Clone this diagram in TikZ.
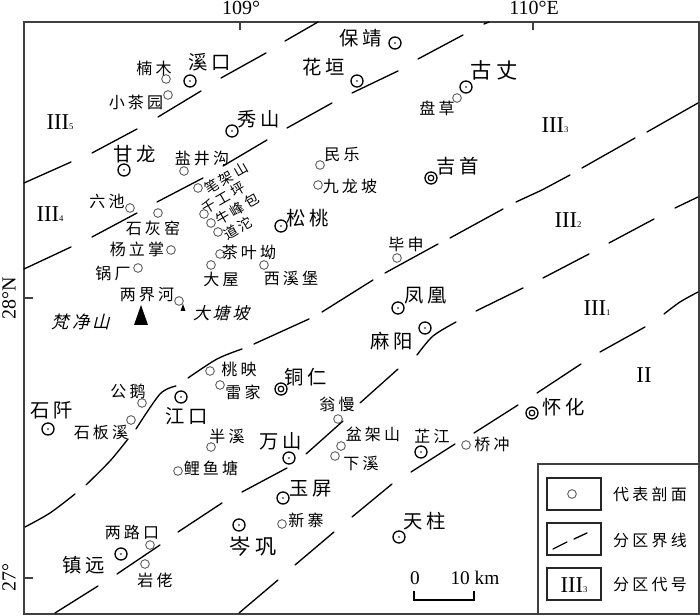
\documentclass[tikz,border=0pt]{standalone}
\usepackage{fontspec}
\setmainfont{Liberation Serif}
\newfontfamily\cjk[LetterSpace=20]{Noto Sans CJK SC}
\newfontfamily\cjksl[LetterSpace=18,FakeSlant=0.25]{Noto Sans CJK SC}
\newcommand{\zone}[2]{{\fontsize{17}{17}\selectfont #1}\raisebox{-0.2pt}{\fontsize{6.5}{7}\selectfont #2}}
\tikzset{
  x=0.75pt,y=-0.75pt,
  frameline/.style={draw=black!75,line width=1.5pt},
  fault/.style={line width=1pt,line cap=round},
  site/.style={circle,draw=black!70,line width=0.6pt,minimum size=6.5pt,inner sep=0pt},
  town/.style={circle,draw=black,line width=1pt,minimum size=9pt,inner sep=0pt},
  city/.style={circle,draw=black,line width=1pt,minimum size=9pt,inner sep=0pt},
  xl/.style={inner sep=0pt,font=\cjk\fontsize{16}{16}\selectfont},
  lg/.style={inner sep=0pt,font=\cjk\fontsize{14.5}{15}\selectfont},
  md/.style={inner sep=0pt,font=\cjk\fontsize{12}{12}\selectfont},
  tn/.style={inner sep=0pt,font=\cjk\fontsize{10.5}{11}\selectfont,rotate=30},
  it/.style={inner sep=0pt,font=\cjksl\fontsize{12.5}{13}\selectfont},
  coord/.style={inner sep=0pt,font=\fontsize{15}{15}\selectfont},
  zonelabel/.style={inner sep=0pt},
  legbox/.style={draw=black!85,line width=1pt},
}
\begin{document}
\begin{tikzpicture}
\useasboundingbox (0,0) rectangle (700,616);
\fill[white] (0,0) rectangle (700,616);
% frame and ticks
\draw[frameline] (24,22) rectangle (699,614);
\draw[line width=1pt,black!75] (240,22) -- (240,30) (533,22) -- (533,30) (24,298) -- (33,298) (24,578) -- (33,578);
\node[coord] (lon1) at (241,8) {109°};
\node[coord] (lon2) at (534,8) {110°E};
\node[coord,rotate=90] (lat1) at (9,298) {28°N};
\node[coord,rotate=90] (lat2) at (9,578) {27°};
% line A
\draw[fault] (24,183)--(71,162) (92,153)--(137,129) (158,117)--(201,91) (221,78)--(266,53) (285,41)--(318,22);
% line B
\draw[fault] (24,269)--(71,247) (92,237)--(137,213) (157,202)--(203,178) (223,166)--(267,140) (287,128)--(332,103) (352,93)--(398,71) (418,59)--(463,35) (484,24)--(489,22);
% line C
\draw[fault] (698,103)--(647,132) (635,138)--(582,168) (570,175)--(542,190)--(516,202) (503,209)--(450,238) (438,244)--(385,273) (373,280)--(322,312) (309,319)--(254,344);
\draw[fault] plot[smooth] coordinates {(242,349) (217,359) (188,378)};
\draw[fault] plot[smooth] coordinates {(176,386) (160,394) (136,429)};
\draw[fault] plot[smooth] coordinates {(128,439) (110,461) (86,485)};
\draw[fault] plot[smooth] coordinates {(75,494) (50,513) (25,527)};
% line D
\draw[fault] (698,197)--(675,208) (654,219)--(609,243) (589,254)--(543,278) (523,288)--(476,311);
\draw[fault] plot[smooth] coordinates {(456,322) (433,336) (417,355)};
\draw[fault] (398,369)--(360,403) (343,421)--(306,454) (287,468)--(242,492) (222,503)--(178,532) (160,545)--(117,574) (98,586)--(55,613);
% line E
\draw[fault] plot[smooth] coordinates {(698,292) (680,302) (664,314)};
\draw[fault] (645,327)--(600,352) (581,364)--(537,393) (518,405)--(474,433) (455,444)--(411,472) (392,484)--(352,517) (334,532)--(295,565) (278,580)--(239,613);
% small sites
\foreach \n/\x/\y in {a/166/79,b/168/95,c/184/171,d/198/188,e/204/214,f/211/223,g/218/232,h/130/208,i/158/213,j/171/250,k/138/268,l/220/254,m/211/265,n/264/265,o/179/301,p/320/165,q/318/185,r/457/98,s/397/258,t/210/371,u/220/385,v/142/403,w/131/420,x/211/447,y/178/471,z/338/419,aa/341/446,ab/335/456,ac/282/524,ad/150/545,ae/145/564,af/466/445}
  \node[site] (site\n) at (\x,\y) {};
% towns
\foreach \n/\x/\y in {a/190/81,b/124/170,c/232/131,d/281/226,e/395/43,f/357/81,g/466/87,h/398/308,i/425/328,j/181/397,k/48/429,l/289/458,m/283/498,n/239/525,o/121/554,p/421/452,q/399/537}{
  \node[town] (town\n) at (\x,\y) {};
  \fill (town\n.center) circle (0.7pt);
}
% cities
\foreach \n/\x/\y in {js/431/178,hh/532/413,tr/281/389}{
  \node[city] (city\n) at (\x,\y) {};
  \draw[line width=0.9pt] (city\n.center) circle (2.1pt);
}
% labels
\node[lg] at (361,38) {保靖};
\node[lg] at (324,67) {花垣};
\node[lg] at (210,62) {溪口};
\node[md] at (154,68) {楠木};
\node[md] at (136,102) {小茶园};
\node[lg] at (259,119) {秀山};
\node[lg] at (135,154) {甘龙};
\node[md] at (202,159) {盐井沟};
\node[md] at (342,155) {民乐};
\node[md] at (350,186) {九龙坡};
\node[xl] at (494,70) {古丈};
\node[md] at (437,108) {盘草};
\node[lg] at (458,166) {吉首};
\node[lg] at (308,218) {松桃};
\node[md] at (406,244) {毕申};
\node[lg] at (426,296) {凤凰};
\node[lg] at (392,341) {麻阳};
\node[md] at (107,201) {六池};
\node[md] at (153,228) {石灰窑};
\node[md] at (137,249) {杨立掌};
\node[md] at (113,273) {锅厂};
\node[md] at (221,279) {大屋};
\node[md] at (249,252) {茶叶坳};
\node[md] at (291,278) {西溪堡};
\node[md] at (147,295) {两界河};
\node[tn] at (226,178) {笔架山};
\node[tn] at (223,198) {千工坪};
\node[tn] at (237,209) {牛峰包};
\node[tn] at (238,228) {道沱};
\node[it] at (221,313) {大塘坡};
\node[it,font=\cjksl\fontsize{13}{13}\selectfont] at (81,322) {梵净山};
\node[md] at (239,369) {桃映};
\node[md] at (243,392) {雷家};
\node[lg] at (306,377) {铜仁};
\node[md] at (128,391) {公鹅};
\node[md] at (101,432) {石板溪};
\node[lg] at (52,410) {石阡};
\node[lg] at (187,416) {江口};
\node[md] at (227,436) {半溪};
\node[lg] at (281,441) {万山};
\node[md] at (211,468) {鲤鱼塘};
\node[md] at (337,404) {翁慢};
\node[md] at (373,434) {盆架山};
\node[md] at (361,463) {下溪};
\node[md] at (432,436) {芷江};
\node[md] at (492,444) {桥冲};
\node[lg] at (564,407) {怀化};
\node[lg] at (311,489) {玉屏};
\node[md] at (306,520) {新寨};
\node[xl] at (253,546) {岑巩};
\node[md] at (132,532) {两路口};
\node[lg] at (84,565) {镇远};
\node[md] at (155,580) {岩佬};
\node[lg] at (425,521) {天柱};
% zone labels
\node[zonelabel] at (60,122) {\zone{III}{5}};
\node[zonelabel] at (50,214) {\zone{III}{4}};
\node[zonelabel] at (555,125) {\zone{III}{3}};
\node[zonelabel] at (568,220) {\zone{III}{2}};
\node[zonelabel] at (597,308) {\zone{III}{1}};
\node[zonelabel] at (644,375) {\fontsize{17}{17}\selectfont II};
% triangles
\fill (141,305)--(134,325)--(148,325)--cycle;
\fill (183,304)--(180.5,311)--(185.5,311)--cycle;
% scale
\node[inner sep=0pt,font=\fontsize{14.5}{15}\selectfont] (s0) at (415,578) {0};
\node[inner sep=0pt,font=\fontsize{14.5}{15}\selectfont] (s10) at (475,578) {10 km};
\draw[line width=0.9pt] (414,591)--(414,600)--(474,600)--(474,591);
% legend
\draw[frameline,fill=white] (538,464) -- (699,464) -- (699,614) -- (538,614) -- cycle;
\draw[legbox] (547,478) rectangle (601,510);
\draw[legbox] (547,523) rectangle (601,555);
\draw[legbox] (547,568) rectangle (601,600);
\node[site] (legsite) at (572,494) {};
\draw[fault] (553,549)--(567,542) (574,539)--(587,533);
\node[zonelabel] at (574,585) {\zone{III}{3}};
\node[md] at (650,494) {代表剖面};
\node[md] at (650,540) {分区界线};
\node[md] at (650,585) {分区代号};
\end{tikzpicture}
\end{document}
